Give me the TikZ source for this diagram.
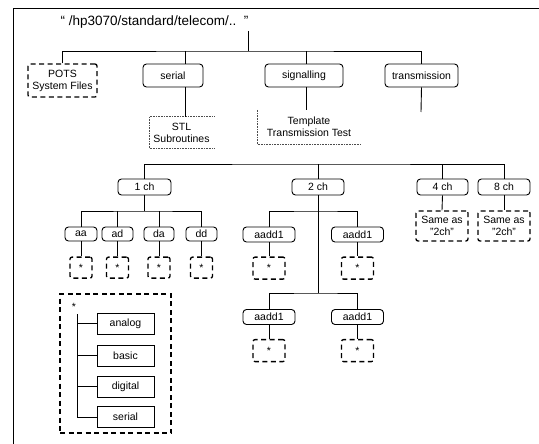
\documentclass[tikz,border=0pt]{standalone}
\usepackage{fontspec}
\setmainfont{Liberation Sans}
\begin{document}
\begin{tikzpicture}[x=1pt,y=-1pt,
  lbl/.style={font=\fontsize{10.5}{12}\selectfont, inner sep=0pt, align=center},
  rbox/.style={lbl, draw, rounded corners=3.5pt, line width=0.9pt},
  dbox/.style={lbl, draw, dash pattern=on 5pt off 3.5pt, line width=1.3pt, rounded corners=2pt},
  sqbox/.style={lbl, draw, line width=0.9pt},
  link/.style={line width=0.9pt},
  faint/.style={densely dotted, line width=0.6pt, black!70}]
\useasboundingbox (0,0) rectangle (539,444);
% outer frame
\draw[line width=1pt] (13,444) -- (13,9) -- (539,9);
% title
\node[font=\fontsize{13.5}{15}\selectfont, inner sep=0pt] (title) at (154.5,22) {“ /hp3070/standard/telecom/..\ \ ”};
\coordinate (tq) at (248,31);
\coordinate (bus1) at (248,51);
% top level
\node[dbox, minimum width=69pt, minimum height=33pt] (pots) at (62.5,80.5) {POTS\\System Files};
\node[rbox, minimum width=60pt, minimum height=23pt] (serial) at (173,75.5) {serial};
\node[rbox, minimum width=78pt, minimum height=23pt] (sig) at (304,75.5) {signalling};
\node[rbox, minimum width=73pt, minimum height=23pt] (tr) at (421.5,75.5) {transmission};
\draw[link] (tq) -- (bus1);
\draw[link] (pots.north) |- (bus1) -| (tr.north);
\draw[link] ([xshift=12pt]serial.north) -- ([xshift=12pt]serial.north |- bus1);
\draw[link] ([xshift=2pt]sig.north) -- ([xshift=2pt]sig.north |- bus1);
% STL and Template
\node[lbl, minimum width=65pt, minimum height=31pt] (stl) at (181.5,132.5) {STL\\Subroutines};
\draw[faint] (stl.north east) -- (stl.north west) -- (stl.south west) -- (stl.south east);
\node[lbl, minimum width=104pt, minimum height=34pt] (tmp) at (309,127) {Template\\Transmission Test};
\draw[faint] (tmp.north west) -- (tmp.south west) -- (tmp.south east);
\draw[link] ([xshift=12pt]serial.south) -- ([xshift=12pt]serial.south |- stl.north);
\draw[link] ([xshift=2pt]sig.south) -- ([xshift=2pt]sig.south |- tmp.north);
\coordinate (trend) at (421,112);
\draw[link] (tr.south) -- (trend);
% second level
\coordinate (bus2) at (318,164);
\node[rbox, minimum width=53pt, minimum height=16pt] (ch1) at (144.5,187) {1 ch};
\node[rbox, minimum width=52pt, minimum height=16pt] (ch2) at (318,187) {2 ch};
\node[rbox, minimum width=51pt, minimum height=16pt] (ch4) at (442.5,187) {4 ch};
\node[rbox, minimum width=52pt, minimum height=16pt] (ch8) at (504,187) {8 ch};
\draw[link] (ch1.north) |- (bus2) -| (ch8.north);
\draw[link] (ch2.north) -- (bus2);
\draw[link] (ch4.north) -- (ch4.north |- bus2);
\node[dbox, minimum width=52pt, minimum height=30pt] (s4) at (442,226) {Same as\\"2ch"};
\node[dbox, minimum width=52pt, minimum height=30pt] (s8) at (504,226) {Same as\\"2ch"};
\draw[link] (ch4.south) -- (s4.north);
\draw[link] (ch8.south) -- (s8.north);
% 1 ch children
\coordinate (bus3) at (144.5,211);
\node[rbox, minimum width=32pt, minimum height=14pt] (aa) at (81,234) {aa};
\node[rbox, minimum width=31pt, minimum height=14pt] (ad) at (117.5,234) {ad};
\node[rbox, minimum width=30pt, minimum height=14pt] (da) at (159,234) {da};
\node[rbox, minimum width=31pt, minimum height=14pt] (dd) at (201.5,234) {dd};
\draw[link] (ch1.south) -- (bus3);
\draw[link] (aa.north) |- (bus3) -| (dd.north);
\draw[link] (ad.north) -- (ad.north |- bus3);
\draw[link] (da.north) -- (da.north |- bus3);
\foreach \n in {aa,ad,da,dd}{
  \node[dbox, minimum width=22pt, minimum height=21pt, anchor=north] (st\n) at ([yshift=-15pt]\n.south) {*};
  \draw[link] (\n.south) -- (st\n.north);
}
% 2 ch children
\coordinate (bus4) at (318,211);
\coordinate (bus5) at (318,293);
\node[rbox, minimum width=52pt, minimum height=15pt] (a1) at (269,234.5) {aadd1};
\node[rbox, minimum width=52pt, minimum height=15pt] (a2) at (357.5,234.5) {aadd1};
\node[rbox, minimum width=52pt, minimum height=15pt] (a3) at (269,317) {aadd1};
\node[rbox, minimum width=52pt, minimum height=15pt] (a4) at (357.5,317) {aadd1};
\draw[link] (a1.north) |- (bus4) -| (a2.north);
\draw[link] (ch2.south) -- (bus5);
\draw[link] (a3.north) |- (bus5) -| (a4.north);
\foreach \n in {a1,a2,a3,a4}{
  \node[dbox, minimum width=32pt, minimum height=22pt, anchor=north] (st\n) at ([yshift=-14pt]\n.south) {*};
  \draw[link] (\n.south) -- (st\n.north);
}
% legend
\node[draw, dash pattern=on 5pt off 3.5pt, line width=1.3pt, minimum width=111pt, minimum height=139pt, inner sep=0pt] (leg) at (115.5,363.5) {};
\node[lbl] (lstar) at (74,307) {*};
\coordinate (lt) at (77,314);
\node[sqbox, minimum width=57pt, minimum height=21pt] (lan) at (125.5,323.5) {analog};
\node[sqbox, minimum width=57pt, minimum height=21pt] (lba) at (125.5,355.5) {basic};
\node[sqbox, minimum width=57pt, minimum height=21pt] (ldi) at (125.5,386.5) {digital};
\node[sqbox, minimum width=57pt, minimum height=21pt] (lse) at (125.5,417) {serial};
\draw[link] (lt) |- (lse.west);
\draw[link] (lt |- lan.west) -- (lan.west);
\draw[link] (lt |- lba.west) -- (lba.west);
\draw[link] (lt |- ldi.west) -- (ldi.west);
\end{tikzpicture}
\end{document}
